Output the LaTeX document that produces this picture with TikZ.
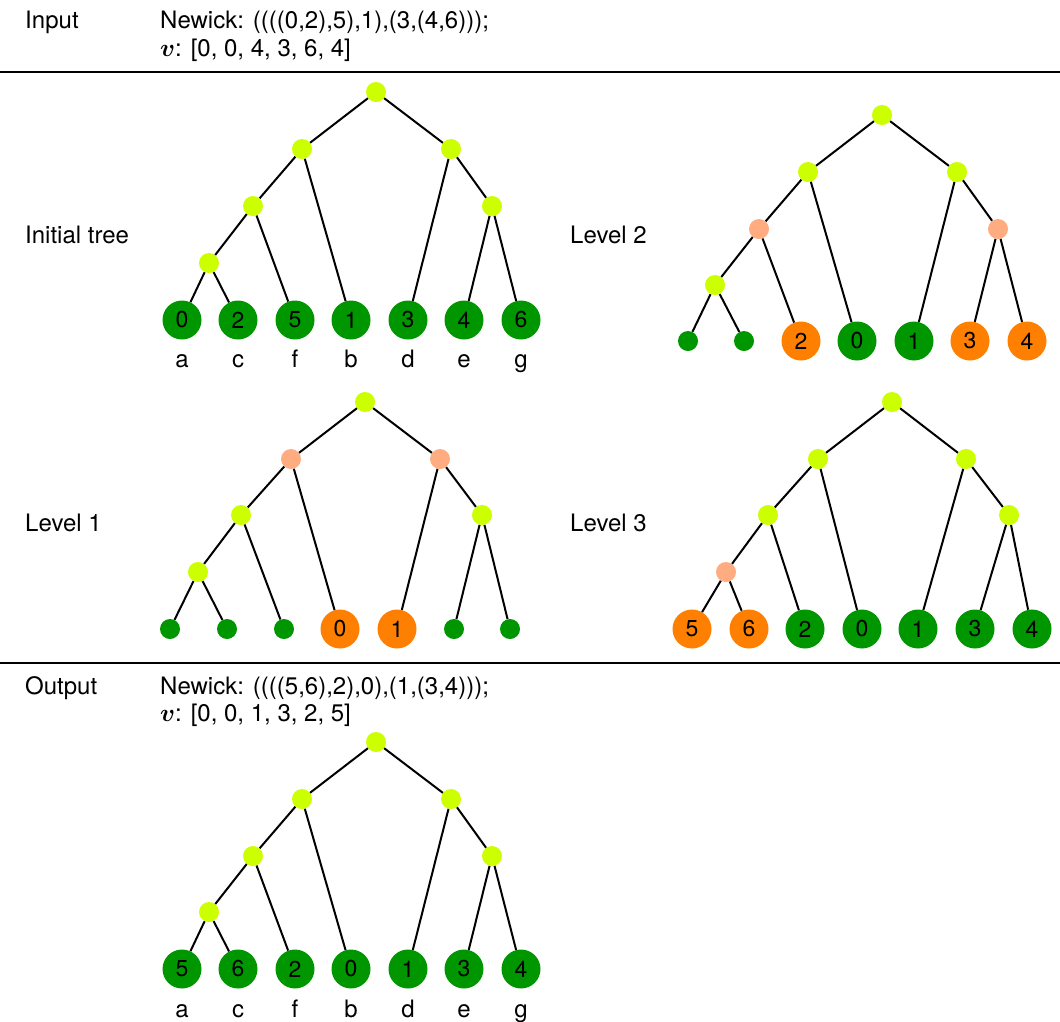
\documentclass[tikz,border=0pt]{standalone}
\usepackage{fontspec}
\usepackage{amsmath}
\setmainfont{TeX Gyre Heros}
\usetikzlibrary{positioning}
\definecolor{LeafGreen}{RGB}{0,150,0}
\definecolor{Lime}{RGB}{204,255,0}
\definecolor{Peach}{RGB}{255,172,128}
\definecolor{Tangerine}{RGB}{255,128,0}

\begin{document}
\begin{tikzpicture}[x=1pt, y=-1pt,
  fork/.style={circle, fill=Lime, minimum size=20pt, inner sep=0pt},
  cut/.style={fork, fill=Peach},
  tip/.style={fork, fill=LeafGreen},
  leaf/.style={circle, fill=LeafGreen, minimum size=39pt, inner sep=0pt,
    font=\fontsize{23}{27}\selectfont},
  moved/.style={leaf, fill=Tangerine},
  letter/.style={font=\fontsize{24}{28}\selectfont, anchor=base},
  heading/.style={font=\fontsize{24}{28}\selectfont, anchor=base west, inner sep=0pt},
  branch/.style={line width=2pt},
  sep/.style={line width=1.4pt}
]
  \useasboundingbox (0,0) rectangle (1060,1021);

  % input
  \node[heading] (inLab) at (25,28)  {Input};
  \node[heading] (inNw)  at (160,28) {Newick: ((((0,2),5),1),(3,(4,6)));};
  \node[heading] (inV)   at (160,56) {$\boldsymbol{v}$: [0, 0, 4, 3, 6, 4]};
  \draw[sep] (0,72) -- (1060,72);

  % initial tree
  \node[heading] (initLab) at (25,243) {Initial tree};
  \node[fork] (init0) at (376,92)  {};
  \node[fork] (init1) at (302,149) {};
  \node[fork] (init2) at (451,149) {};
  \node[fork] (init3) at (253,206) {};
  \node[fork] (init4) at (492,206) {};
  \node[fork] (init5) at (209,263) {};
  \foreach \x/\v/\c [count=\k] in {182/0/a,238/2/c,295/5/f,351/1/b,408/3/d,464/4/e,521/6/g} {
    \node[leaf] (initL\k) at (\x,320) {\v};
    \node[letter] (initN\k) at (\x,367) {\c};
  }

  % level 2
  \node[heading] (lvBLab) at (570,243) {Level 2};
  \node[fork] (lvB0) at (882,115) {};
  \node[fork] (lvB1) at (808,172) {};
  \node[fork] (lvB2) at (957,172) {};
  \node[cut]  (lvB3) at (759,229) {};
  \node[cut]  (lvB4) at (998,229) {};
  \node[fork] (lvB5) at (715,285) {};
  \node[tip]   (lvBL1) at (688,341)  {};
  \node[tip]   (lvBL2) at (744,341)  {};
  \node[moved] (lvBL3) at (801,341)  {2};
  \node[leaf]  (lvBL4) at (857,341)  {0};
  \node[leaf]  (lvBL5) at (914,341)  {1};
  \node[moved] (lvBL6) at (970,341)  {3};
  \node[moved] (lvBL7) at (1027,341) {4};

  % level 1
  \node[heading] (lvALab) at (25,531) {Level 1};
  \node[fork] (lvA0) at (365,402) {};
  \node[cut]  (lvA1) at (291,459) {};
  \node[cut]  (lvA2) at (440,459) {};
  \node[fork] (lvA3) at (241,515) {};
  \node[fork] (lvA4) at (482,515) {};
  \node[fork] (lvA5) at (198,572) {};
  \node[tip]   (lvAL1) at (170,629) {};
  \node[tip]   (lvAL2) at (227,629) {};
  \node[tip]   (lvAL3) at (284,629) {};
  \node[moved] (lvAL4) at (340,629) {0};
  \node[moved] (lvAL5) at (397,629) {1};
  \node[tip]   (lvAL6) at (454,629) {};
  \node[tip]   (lvAL7) at (510,629) {};

  % level 3
  \node[heading] (lvCLab) at (570,531) {Level 3};
  \node[fork] (lvC0) at (892,402)  {};
  \node[fork] (lvC1) at (818,459)  {};
  \node[fork] (lvC2) at (966,459)  {};
  \node[fork] (lvC3) at (768,515)  {};
  \node[fork] (lvC4) at (1009,515) {};
  \node[cut]  (lvC5) at (726,572)  {};
  \node[moved] (lvCL1) at (692,629)  {5};
  \node[moved] (lvCL2) at (749,629)  {6};
  \node[leaf]  (lvCL3) at (805,629)  {2};
  \node[leaf]  (lvCL4) at (862,629)  {0};
  \node[leaf]  (lvCL5) at (918,629)  {1};
  \node[leaf]  (lvCL6) at (975,629)  {3};
  \node[leaf]  (lvCL7) at (1032,629) {4};

  % output
  \draw[sep] (0,663) -- (1060,663);
  \node[heading] (outLab) at (25,694)  {Output};
  \node[heading] (outNw)  at (160,694) {Newick: ((((5,6),2),0),(1,(3,4)));};
  \node[heading] (outV)   at (160,721) {$\boldsymbol{v}$: [0, 0, 1, 3, 2, 5]};
  \node[fork] (out0) at (376,742) {};
  \node[fork] (out1) at (302,799) {};
  \node[fork] (out2) at (451,799) {};
  \node[fork] (out3) at (253,856) {};
  \node[fork] (out4) at (492,856) {};
  \node[fork] (out5) at (209,912) {};
  \foreach \x/\v/\c [count=\k] in {182/5/a,238/6/c,295/2/f,351/0/b,408/1/d,464/3/e,521/4/g} {
    \node[leaf] (outL\k) at (\x,969) {\v};
    \node[letter] (outN\k) at (\x,1017) {\c};
  }

  % branches, same shape in every tree
  \foreach \t in {init,lvA,lvB,lvC,out}
    \foreach \a/\b in {0/1,0/2,1/3,1/L4,3/5,3/L3,5/L1,5/L2,2/L5,2/4,4/L6,4/L7}
      \draw[branch] (\t\a) -- (\t\b);
\end{tikzpicture}
\end{document}
